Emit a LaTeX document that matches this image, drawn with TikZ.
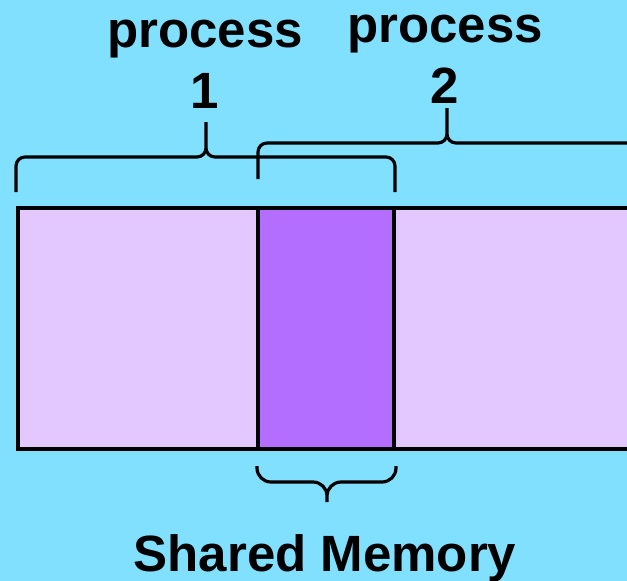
\documentclass[tikz,border=0pt]{standalone}
\usepackage{fontspec}
\setmainfont{Liberation Sans}
\usetikzlibrary{positioning}

\definecolor{skyback}{HTML}{82E0FF}
\definecolor{memlight}{HTML}{E2C8FF}
\definecolor{memdark}{HTML}{B46EFF}

\begin{document}
\begin{tikzpicture}[
    x=1pt, y=-1pt,
    memblock/.style={draw, line width=4pt, minimum height=241pt, inner sep=0pt, outer sep=0pt},
    curly/.style={line width=3.2pt, rounded corners=9pt},
    label/.style={font=\fontsize{51}{61}\selectfont\bfseries, align=center, inner sep=0pt}
]
\fill[skyback] (0,0) rectangle (627,581);
\useasboundingbox (0,0) rectangle (627,581);

% memory strip
\node[memblock, fill=memlight, minimum width=240pt] (priv1) at (138,328.5) {};
\node[memblock, fill=memdark, minimum width=136pt, right=0pt of priv1] (shared) {};
\node[memblock, fill=memlight, minimum width=246pt, right=0pt of shared] (priv2) {};

% labels
\node[label, anchor=base] (proc1) at (205,108) {process\\1};
\node[label, anchor=base] (proc2) at (445,103) {process\\2};
\node[label, anchor=base] (smem) at (325,571) {Shared Memory};

% braces
\coordinate (b1l) at (16,192);
\coordinate (b1m) at (206,157);
\coordinate (b1t) at (206,122);
\coordinate (b1r) at (395,192);
\draw[curly] (b1l) |- (b1m) -- (b1t) (b1t) -- (b1m) -| (b1r);

\coordinate (b2l) at (258,179);
\coordinate (b2m) at (447,143);
\coordinate (b2t) at (447,108);
\coordinate (b2r) at (660,143);
\draw[curly] (b2l) |- (b2m) -- (b2t) (b2t) -- (b2m) -- (b2r);

\coordinate (b3l) at (257,466);
\coordinate (b3m) at (327,482);
\coordinate (b3t) at (327,502);
\coordinate (b3r) at (396,466);
\draw[curly, rounded corners=14pt] (b3l) |- (b3m) -- (b3t) (b3t) -- (b3m) -| (b3r);

\end{tikzpicture}
\end{document}
